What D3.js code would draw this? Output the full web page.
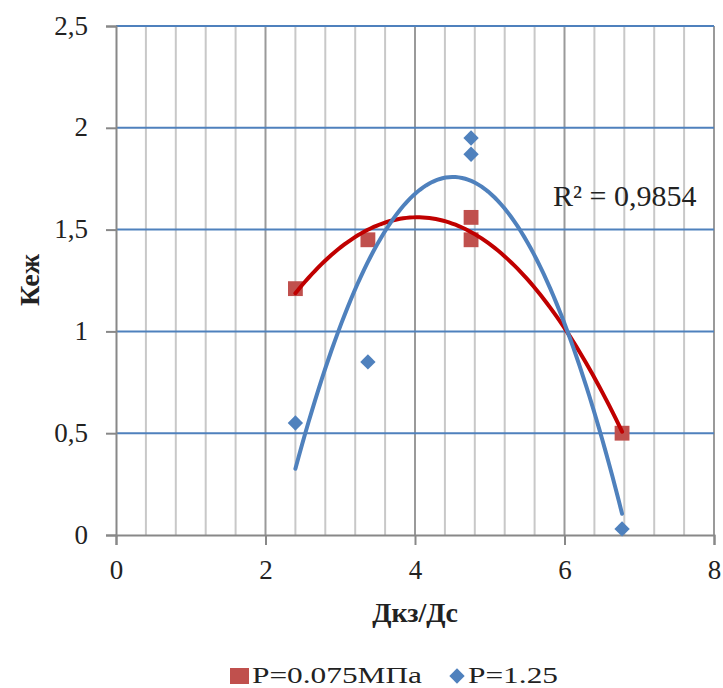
<!DOCTYPE html>
<html lang="ru">
<head>
<meta charset="UTF-8">
<title>Кеж от Дкз/Дс</title>
<style>
	body { margin: 0; background: #fff; }
	svg { display: block; font-family: "Liberation Serif", "Times New Roman", serif; }
	.tick text { font-size: 27px; fill: #222; }
	.axis-title { font-size: 28px; font-weight: bold; fill: #222; }
	.legend text { font-size: 24px; fill: #222; }
</style>
<script src="https://d3js.org/d3.v7.min.js"></script>
</head>
<body>
<script>
	// series 1: P=0.075МПа (red squares)
	const xRed = [2.4, 3.37, 4.75, 4.75, 6.77];
	const yRed = [1.21, 1.45, 1.56, 1.45, 0.50];
	// series 2: P=1.25 (blue diamonds)
	const xBlue = [2.4, 3.37, 4.75, 4.75, 6.77];
	const yBlue = [0.55, 0.85, 1.95, 1.87, 0.03];

	const seriesNames = ["P=0.075МПа", "P=1.25"];
	const xTicks = [0, 2, 4, 6, 8];
	const yTicks = [0, 0.5, 1, 1.5, 2, 2.5];
	const rSquared = "R² = 0,9854";

	const w = 723, h = 688;
	const red = "#c0504d", redLine = "#c00000", blue = "#4f81bd";

	const svg = d3.select("body").append("svg")
		.attr("width", w).attr("height", h);

	const x = d3.scaleLinear().domain([0, 8]).range([116, 714]);
	const y = d3.scaleLinear().domain([0, 2.5]).range([535, 26]);

	// minor vertical grid every 0.4
	const minor = d3.range(0, 8.001, 0.4).filter(v => Math.abs(v / 2 - Math.round(v / 2)) > 1e-6);
	svg.append("g").selectAll("line").data(minor).enter().append("line")
		.attr("x1", d => x(d)).attr("x2", d => x(d))
		.attr("y1", y(2.5)).attr("y2", y(0))
		.attr("stroke", "#c8c8c8").attr("stroke-width", 2);
	svg.append("g").selectAll("line").data(xTicks.slice(1)).enter().append("line")
		.attr("x1", d => x(d)).attr("x2", d => x(d))
		.attr("y1", y(2.5)).attr("y2", y(0))
		.attr("stroke", "#9a9a9a").attr("stroke-width", 2);
	// horizontal grid
	svg.append("g").selectAll("line").data(yTicks.slice(1)).enter().append("line")
		.attr("x1", x(0)).attr("x2", x(8))
		.attr("y1", d => y(d)).attr("y2", d => y(d))
		.attr("stroke", blue).attr("stroke-width", 2);

	// axes
	const xAxis = svg.append("g")
		.attr("transform", "translate(0," + y(0) + ")")
		.call(d3.axisBottom(x).tickValues(xTicks).tickSize(10).tickPadding(15).tickFormat(d3.format("d")));
	const yAxis = svg.append("g")
		.attr("transform", "translate(" + x(0) + ",0)")
		.call(d3.axisLeft(y).tickValues(yTicks).tickSize(10).tickPadding(18)
			.tickFormat(d => String(d).replace(".", ",")));
	[xAxis, yAxis].forEach(g => {
		g.attr("font-family", null).attr("font-size", null);
		g.select(".domain").attr("stroke", "#888").attr("stroke-width", 2);
		g.selectAll(".tick line").attr("stroke", "#888").attr("stroke-width", 2);
	});
	yAxis.selectAll(".tick text").attr("dy", "0.3em");

	// quadratic least squares trendline (like Excel's polynomial trend)
	function polyFit(xs, ys) {
		const n = xs.length;
		let s = [0, 0, 0, 0, 0], t = [0, 0, 0];
		for (let i = 0; i < n; i++) {
			for (let k = 0; k < 5; k++) s[k] += Math.pow(xs[i], k);
			for (let k = 0; k < 3; k++) t[k] += ys[i] * Math.pow(xs[i], k);
		}
		const A = [[s[0], s[1], s[2], t[0]], [s[1], s[2], s[3], t[1]], [s[2], s[3], s[4], t[2]]];
		for (let i = 0; i < 3; i++) {
			for (let j = i + 1; j < 3; j++) {
				const f = A[j][i] / A[i][i];
				for (let k = i; k < 4; k++) A[j][k] -= f * A[i][k];
			}
		}
		const c = [0, 0, 0];
		for (let i = 2; i >= 0; i--) {
			let v = A[i][3];
			for (let k = i + 1; k < 3; k++) v -= A[i][k] * c[k];
			c[i] = v / A[i][i];
		}
		return v => c[0] + c[1] * v + c[2] * v * v;
	}

	const line = d3.line().x(d => x(d[0])).y(d => y(d[1]));
	function trend(xs, ys, color) {
		const f = polyFit(xs, ys);
		const lo = d3.min(xs), hi = d3.max(xs);
		const pts = d3.range(0, 101).map(i => { const v = lo + (hi - lo) * i / 100; return [v, f(v)]; });
		svg.append("path").datum(pts).attr("d", line)
			.attr("fill", "none").attr("stroke", color).attr("stroke-width", 4)
			.attr("stroke-linecap", "round");
	}

	const square = d3.symbol().type(d3.symbolSquare).size(220);
	const diamond = d3.symbol().type(d3.symbolDiamond2).size(150);

	svg.append("g").selectAll("path").data(d3.zip(xRed, yRed)).enter().append("path")
		.attr("d", square).attr("fill", red)
		.attr("transform", d => "translate(" + x(d[0]) + "," + y(d[1]) + ")");
	svg.append("g").selectAll("path").data(d3.zip(xBlue, yBlue)).enter().append("path")
		.attr("d", diamond).attr("fill", blue)
		.attr("transform", d => "translate(" + x(d[0]) + "," + y(d[1]) + ")");

	trend(xRed, yRed, redLine);
	trend(xBlue, yBlue, blue);

	svg.append("text").attr("x", 553).attr("y", 206)
		.attr("font-size", 30).attr("fill", "#222").text(rSquared);

	// axis titles
	svg.append("text").attr("class", "axis-title")
		.attr("x", 415).attr("y", 622).attr("text-anchor", "middle").text("Дкз/Дс");
	svg.append("text").attr("class", "axis-title")
		.attr("transform", "translate(39,280) rotate(-90)")
		.attr("text-anchor", "middle").text("Кеж");

	// legend
	const lg = svg.append("g").attr("class", "legend");
	lg.append("rect").attr("x", 230).attr("y", 668).attr("width", 19).attr("height", 16).attr("fill", red);
	lg.append("text").attr("x", 252).attr("y", 683)
		.attr("textLength", 170).attr("lengthAdjust", "spacingAndGlyphs").text(seriesNames[0]);
	lg.append("path").attr("d", diamond).attr("fill", blue).attr("transform", "translate(457,676)");
	lg.append("text").attr("x", 468).attr("y", 683)
		.attr("textLength", 90).attr("lengthAdjust", "spacingAndGlyphs").text(seriesNames[1]);
</script>
</body>
</html>
